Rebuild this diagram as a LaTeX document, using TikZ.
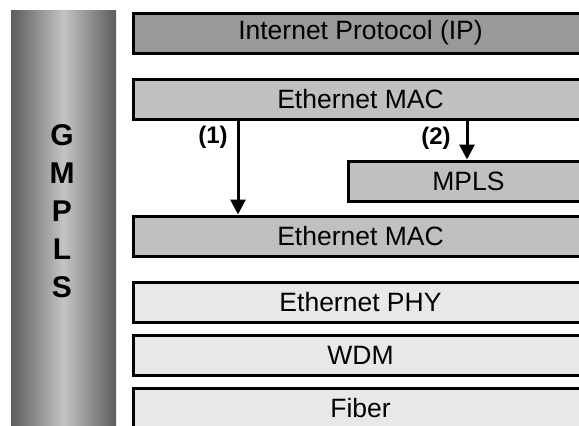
\documentclass[tikz,border=0pt]{standalone}
\usepackage{fontspec}
\setmainfont{Liberation Sans}
\usetikzlibrary{arrows.meta}
\definecolor{ipgray}{RGB}{153,153,153}
\definecolor{macgray}{RGB}{192,192,192}
\definecolor{phygray}{RGB}{232,232,232}
\definecolor{baredge}{RGB}{92,92,92}
\definecolor{barmid}{RGB}{196,196,196}
\begin{document}
\begin{tikzpicture}[x=1pt,y=-1pt,
  layer/.style={draw=black, line width=3pt, anchor=north west, minimum height=40pt,
    inner sep=0pt, font=\fontsize{26.5}{30}\selectfont},
  tag/.style={font=\fontsize{24}{28}\selectfont\bfseries, inner sep=0pt},
  arr/.style={line width=3pt, -{Triangle[length=15pt,width=15pt]}}]
\useasboundingbox (0,0) rectangle (579,426);
\clip (0,0) rectangle (579,426);
% GMPLS bar
\shade[left color=baredge, right color=baredge, middle color=barmid] (11,10) rectangle (116,428);
\node[font=\fontsize{30}{38}\selectfont\bfseries, align=center, inner sep=0pt] (gmpls) at (62,211) {G\\M\\P\\L\\S};
% layers
\node[layer, fill=ipgray,  minimum width=455pt] (ip)   at (131.5,11.5)  {Internet Protocol (IP)};
\node[layer, fill=macgray, minimum width=455pt] (mac1) at (131.5,77.5)  {Ethernet MAC};
\node[layer, fill=macgray, minimum width=241pt] (mpls) at (346.5,159.5) {MPLS};
\node[layer, fill=macgray, minimum width=455pt] (mac2) at (131.5,214.5) {Ethernet MAC};
\node[layer, fill=phygray, minimum width=455pt] (phy)  at (131.5,280.5) {Ethernet PHY};
\node[layer, fill=phygray, minimum width=455pt] (wdm)  at (131.5,333.5) {WDM};
\node[layer, fill=phygray, minimum width=455pt] (fib)  at (131.5,386.5) {Fiber};
% arrows
\coordinate (a1) at (238,0);
\coordinate (a2) at (467,0);
\draw[arr] (mac1.south -| a1) -- (mac2.north -| a1);
\draw[arr] (mac1.south -| a2) -- (mpls.north -| a2);
\node[tag] (l1) at (213,137) {(1)};
\node[tag] (l2) at (436,138) {(2)};
\end{tikzpicture}
\end{document}
